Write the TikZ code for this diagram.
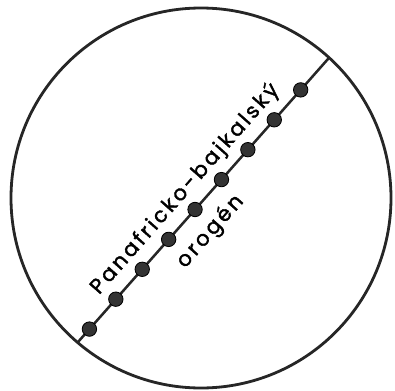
\documentclass[tikz,border=0pt]{standalone}
\usepackage{fontspec}
\usetikzlibrary{calc}
\newfontfamily\orofont{Poppins}[LetterSpace=13, FakeBold=1.6]

\begin{document}
\begin{tikzpicture}[scale=1,
    bead/.style={circle, fill=black!80, draw=black, line width=0.6pt, inner sep=0pt, minimum size=0.36cm},
    label/.style={font=\orofont\fontsize{15}{17}\selectfont, rotate=48.6, inner sep=0pt}]
        \useasboundingbox (-5.025,-4.8) rectangle (4.85,4.95);
        % ==== CIRCLE ====
        \draw[line width=2pt, black!85] (0,0) circle (4.75);
        % ==== OROGEN LINE ====
        \coordinate (sw) at (229.5:4.75);
        \coordinate (ne) at (47.6:4.75);
        \draw[line width=1.8pt, black!85] (sw) -- (ne);
        \foreach \k in {0,...,8}
            \node[bead] (b\k) at ($(sw)!{0.047+0.105*\k}!(ne)$) {};
        % ==== Labels ====
        \node[label] (name) at ($(sw)!0.49!(ne)+(138.6:0.52)$) {Panafricko-bajkalský};
        \node[label] (oro) at ($(sw)!0.45!(ne)+(-41.4:0.66)$) {orogén};
\end{tikzpicture}
\end{document}
